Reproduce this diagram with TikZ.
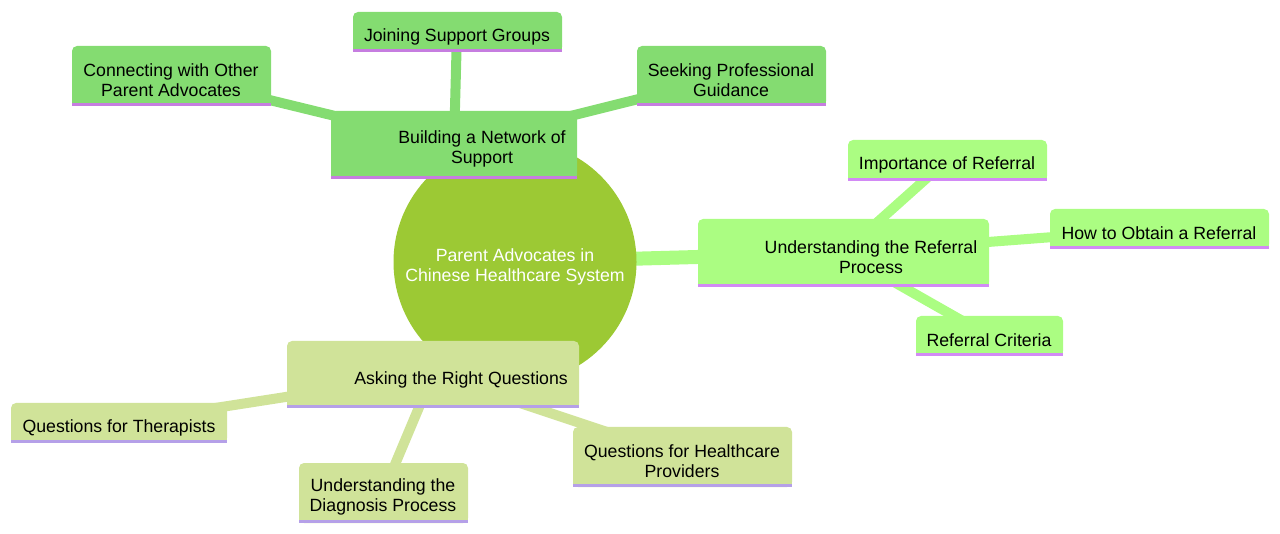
\documentclass[tikz,border=0pt]{standalone}
\usepackage{fontspec}
\setmainfont{Liberation Sans}
\definecolor{rootc}{HTML}{9CC934}
\definecolor{sA}{HTML}{84DC71}
\definecolor{sB}{HTML}{ABFD82}
\definecolor{sC}{HTML}{D0E399}
\definecolor{uA}{HTML}{C67DE0}
\definecolor{uB}{HTML}{D28AF5}
\definecolor{uC}{HTML}{B5A0E8}
\tikzset{
  box/.style={draw=none, rounded corners=5pt, inner sep=0pt, outer sep=0pt},
  txt/.style={font=\fontsize{17.7}{20.5}\selectfont, align=center, inner sep=0pt, text=black, yshift=-1.5pt},
  edgeA/.style={line width=14pt},
  edgeB/.style={line width=10pt},
}
% \mmbox{name}{x1}{y1}{x2}{y2}{fill}{underline}
\newcommand{\mmbox}[7]{%
  \node[box, fill=#6, minimum width={#4-#2}, minimum height={#5-#3}] (#1) at ({(#2+#4)/2},{(#3+#5)/2}) {};
  \fill[#6] ([yshift=3pt]#1.south west) rectangle ([yshift=8pt]#1.south east);
  \fill[#7] (#1.south west) rectangle ([yshift=3pt]#1.south east);
}
\begin{document}
\begin{tikzpicture}[x=1pt,y=-1pt]
\useasboundingbox (0,0) rectangle (1280,534);
% coordinates for edges (centres)
\coordinate (c0) at (515,262);
\coordinate (cA) at (454,145);
\coordinate (cB) at (843,253);
\coordinate (cC) at (433,374);
\coordinate (cA1) at (171,76);
\coordinate (cA2) at (457,32);
\coordinate (cA3) at (731,76);
\coordinate (cB1) at (947,160);
\coordinate (cB2) at (1159,229);
\coordinate (cB3) at (989,336);
\coordinate (cC1) at (119,423);
\coordinate (cC2) at (383,493);
\coordinate (cC3) at (682,457);
% edges
\draw[sA, edgeA] (c0) -- (cA);
\draw[sB, edgeA] (c0) -- (cB);
\draw[sC, edgeA] (c0) -- (cC);
\draw[sA, edgeB] (cA) -- (cA1);
\draw[sA, edgeB] (cA) -- (cA2);
\draw[sA, edgeB] (cA) -- (cA3);
\draw[sB, edgeB] (cB) -- (cB1);
\draw[sB, edgeB] (cB) -- (cB2);
\draw[sB, edgeB] (cB) -- (cB3);
\draw[sC, edgeB] (cC) -- (cC1);
\draw[sC, edgeB] (cC) -- (cC2);
\draw[sC, edgeB] (cC) -- (cC3);
% root
\node[circle, fill=rootc, minimum size=243pt, inner sep=0pt] (root) at (c0) {};
\node[txt, text=white] (rootT) at (515,265.5) {Parent Advocates in\\Chinese Healthcare System};
% section A
\mmbox{nA}{331}{111}{577}{179}{sA}{uA}
\node[txt] (nAT) at (482,147.5) {Building a Network of\\Support};
\mmbox{nA1}{72}{46}{271}{106}{sA}{uA}
\node[txt] (nA1T) at (171,78.5) {Connecting with Other\\Parent Advocates};
\mmbox{nA2}{353}{12}{562}{52}{sA}{uA}
\node[txt] (nA2T) at (457,35) {Joining Support Groups};
\mmbox{nA3}{637}{46}{826}{106}{sA}{uA}
\node[txt] (nA3T) at (731,78.5) {Seeking Professional\\Guidance};
% section B
\mmbox{nB}{698}{219}{989}{287}{sB}{uB}
\node[txt] (nBT) at (871,255.5) {Understanding the Referral\\Process};
\mmbox{nB1}{848}{140}{1047}{181}{sB}{uB}
\node[txt] (nB1T) at (947,163) {Importance of Referral};
\mmbox{nB2}{1050}{209}{1269}{249}{sB}{uB}
\node[txt] (nB2T) at (1159,232) {How to Obtain a Referral};
\mmbox{nB3}{916}{316}{1063}{356}{sB}{uB}
\node[txt] (nB3T) at (989,339) {Referral Criteria};
% section C
\mmbox{nC}{287}{341}{579}{408}{sC}{uC}
\node[txt] (nCT) at (461,378) {Asking the Right Questions};
\mmbox{nC1}{11}{403}{227}{443}{sC}{uC}
\node[txt] (nC1T) at (119,426) {Questions for Therapists};
\mmbox{nC2}{299}{463}{468}{523}{sC}{uC}
\node[txt] (nC2T) at (383,495.5) {Understanding the\\Diagnosis Process};
\mmbox{nC3}{573}{427}{792}{487}{sC}{uC}
\node[txt] (nC3T) at (682,459.5) {Questions for Healthcare\\Providers};
\end{tikzpicture}
\end{document}
